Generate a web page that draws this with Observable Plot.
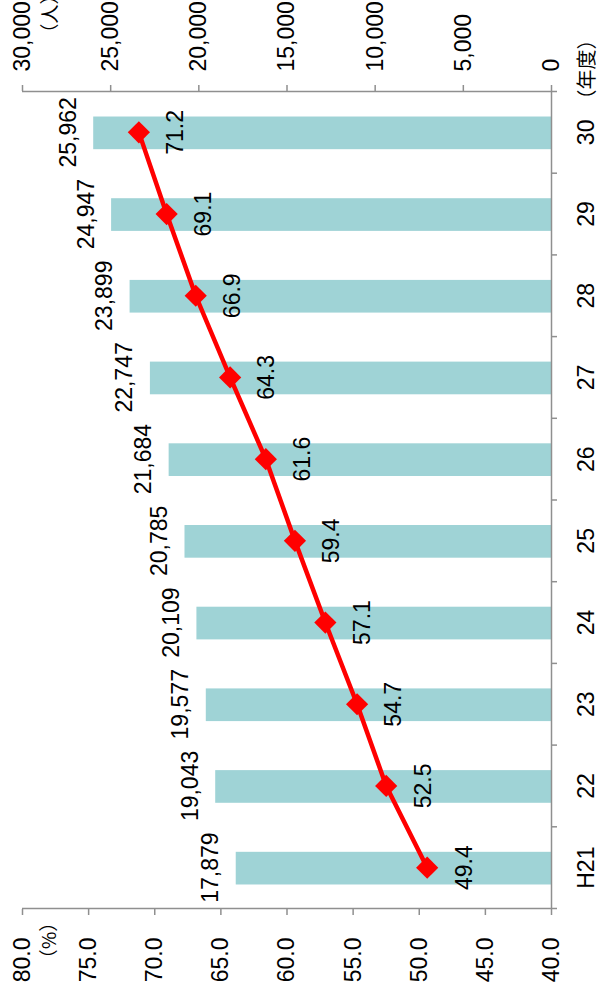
<!DOCTYPE html>
<html>
<head>
<meta charset="utf-8">
<script src="https://cdn.jsdelivr.net/npm/d3@7"></script>
<script src="https://cdn.jsdelivr.net/npm/@observablehq/plot@0.6"></script>
<style>
  html, body { margin: 0; padding: 0; background: white; overflow: hidden; }
  body { width: 598px; height: 1008px; position: relative; }
  #chart {
    position: absolute; left: 0; top: 0;
    width: 1008px; height: 598px;
    transform-origin: 0 0;
    transform: translateY(1008px) rotate(-90deg);
  }
  #chart svg { max-width: none !important; }
</style>
</head>
<body>
<div id="chart"></div>
<script>
// ---- data ----
const categories = ["H21", "22", "23", "24", "25", "26", "27", "28", "29", "30"];
const people = [17879, 19043, 19577, 20109, 20785, 21684, 22747, 23899, 24947, 25962];
const rate = [49.4, 52.5, 54.7, 57.1, 59.4, 61.6, 64.3, 66.9, 69.1, 71.2];
const peopleTicks = [0, 5000, 10000, 15000, 20000, 25000, 30000];
const rateTicks = [40, 45, 50, 55, 60, 65, 70, 75, 80];
const peopleUnit = "（人）";
const rateUnit = "（%）";
const yearUnit = "（年度）";

// ---- mapping of the % series onto the people scale (dual axis) ----
const rateMin = 40, rateMax = 80, peopleMax = 30000;
const toY = p => (p - rateMin) / (rateMax - rateMin) * peopleMax;
const fromY = v => v / peopleMax * (rateMax - rateMin) + rateMin;

const rows = categories.map((c, i) => ({i, c, people: people[i], rate: rate[i]}));
const boundaries = d3.range(-0.5, categories.length, 1);
const axisGray = "#8f8f8f";
const font = "'Liberation Sans', Arial, sans-serif";
const cjk = "'Noto Sans CJK JP', 'Liberation Sans', sans-serif";
const fs = 23;

const chart = Plot.plot({
  width: 1008,
  height: 598,
  marginLeft: 99,
  marginRight: 92,
  marginTop: 22,
  marginBottom: 47,
  style: {fontFamily: font, fontSize: fs + "px", background: "white", color: "black", overflow: "visible"},
  x: {type: "linear", domain: [-0.5, categories.length - 0.5], axis: null},
  y: {domain: [0, peopleMax], axis: null},
  marks: [
    Plot.rectY(rows, {x1: d => d.i - 0.2, x2: d => d.i + 0.2, y1: 0, y2: "people", fill: "#9FD3D6"}),
    // axis lines
    Plot.ruleY([0], {stroke: axisGray, strokeWidth: 1.5}),
    Plot.ruleX([-0.5], {y1: 0, y2: peopleMax, stroke: axisGray, strokeWidth: 1.5}),
    Plot.ruleX([categories.length - 0.5], {y1: 0, y2: peopleMax, stroke: axisGray, strokeWidth: 1.5}),
    // right axis (people)
    Plot.axisY({anchor: "right", ticks: peopleTicks, tickFormat: d3.format(","), tickSize: 6, tickPadding: 14,
      label: null, stroke: axisGray, strokeWidth: 1.5, fill: "black", fontSize: fs}),
    // left axis (%)
    Plot.axisY({anchor: "left", ticks: rateTicks.map(toY), tickFormat: v => fromY(v).toFixed(1), tickSize: 6, tickPadding: 23,
      label: null, stroke: axisGray, strokeWidth: 1.5, fill: "black", fontSize: fs}),
    // category axis: ticks at band boundaries, labels at centers
    Plot.axisX({ticks: boundaries, tickFormat: () => "", tickSize: 6, label: null, stroke: axisGray, strokeWidth: 1.5}),
    Plot.axisX({ticks: rows.map(d => d.i), tickFormat: i => categories[i], tickSize: 0, tickPadding: 26,
      label: null, fill: "black", fontSize: fs}),
    // line + markers
    Plot.line(rows, {x: "i", y: d => toY(d.rate), stroke: "#ff0000", strokeWidth: 4.5}),
    Plot.dot(rows, {x: "i", y: d => toY(d.rate), symbol: "diamond2", r: 10, fill: "#ff0000", stroke: null}),
    // value labels
    Plot.text(rows, {x: "i", y: "people", text: d => d3.format(",")(d.people), lineAnchor: "bottom", dy: -18,
      fill: "black", fontSize: fs}),
    Plot.text(rows, {x: "i", y: d => toY(d.rate), text: d => d.rate.toFixed(1), lineAnchor: "top", dy: 28,
      fill: "black", fontSize: fs}),
    // unit labels
    Plot.text([rateUnit], {frameAnchor: "top-left", text: d => d, textAnchor: "middle", lineAnchor: "middle",
      dx: -32, dy: 27, fontFamily: cjk, fontSize: 19, fill: "black"}),
    Plot.text([peopleUnit], {frameAnchor: "top-right", text: d => d, textAnchor: "start", lineAnchor: "middle",
      dx: 49, dy: 28, fontFamily: cjk, fontSize: 19, fill: "black"}),
    Plot.text([yearUnit], {frameAnchor: "bottom-right", text: d => d, textAnchor: "start", lineAnchor: "middle",
      dx: -18, dy: 36, fontFamily: cjk, fontSize: 20, fill: "black"})
  ]
});
document.getElementById("chart").appendChild(chart);
</script>
</body>
</html>
